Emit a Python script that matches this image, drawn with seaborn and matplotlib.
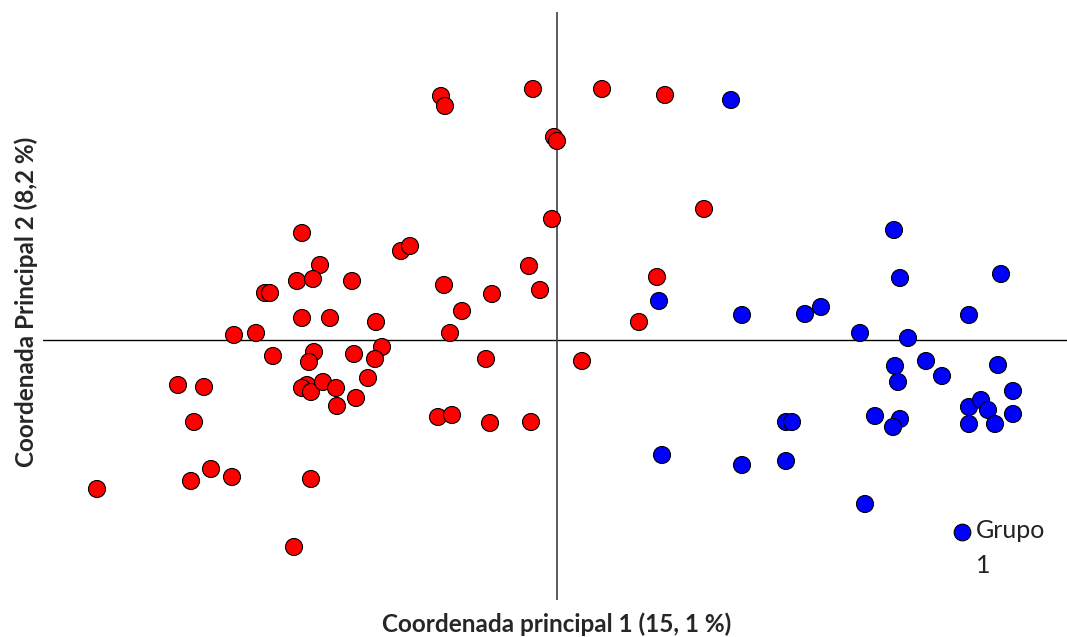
import numpy as np
import pandas as pd
import matplotlib
matplotlib.use("Agg")
import matplotlib.pyplot as plt
from matplotlib.lines import Line2D
from matplotlib.legend_handler import HandlerLine2D
import seaborn as sns

# Principal coordinates
red_x = [-4.60, -3.79, -3.53, -3.63, -3.46, -3.66, -3.25, -2.63, -2.46, -3.23,
         -3.01, -2.84, -2.92, -2.87, -2.55, -2.37, -2.60, -2.44, -2.05, -2.55,
         -2.27, -1.81, -2.43, -2.48, -2.03, -1.75, -1.82, -2.50, -2.55, -2.46,
         -2.34, -2.21, -2.20, -2.01, -1.89, -1.56, -1.47, -1.13, -0.95, -1.07,
         -0.65, -0.28, -0.17, -0.71, -1.19, -1.05, -0.67, -0.26, -1.16, -1.12,
         0.45, 1.08, -0.24, -0.03, 0.00, -0.05, 1.47, 1.00, 0.82, 0.25]
red_y = [-1.49, -0.45, -0.47, -0.82, -1.29, -1.41, -1.37, -2.07, -1.39, 0.05,
         0.07, -0.16, 0.47, 0.47, 1.07, 0.75, 0.59, 0.61, 0.59, 0.22,
         0.22, 0.18, -0.12, -0.22, -0.14, -0.07, -0.19, -0.45, -0.48, -0.52,
         -0.42, -0.48, -0.66, -0.58, -0.38, 0.89, 0.94, 0.55, 0.29, 0.07,
         0.46, 0.74, 0.50, -0.19, -0.77, -0.75, -0.83, -0.82, 2.44, 2.34,
         2.51, 2.45, 2.51, 2.03, 1.99, 1.21, 1.31, 0.63, 0.18, -0.21]

blue_x = [1.74, 1.02, 1.85, 2.48, 2.64, 2.29, 2.35, 1.05, 1.85, 2.29,
          3.37, 3.43, 4.44, 4.12, 3.03, 3.51, 3.38, 3.41, 3.69, 3.85,
          4.41, 4.56, 3.18, 3.43, 3.36, 4.12, 4.24, 4.31, 4.56, 4.12,
          4.38, 3.08]
blue_y = [2.40, 0.39, 0.25, 0.26, 0.33, -0.82, -0.82, -1.15, -1.25, -1.21,
          1.10, 0.62, 0.66, 0.25, 0.07, 0.02, -0.26, -0.42, -0.21, -0.36,
          -0.25, -0.51, -0.76, -0.79, -0.87, -0.67, -0.60, -0.70, -0.74, -0.84,
          -0.84, -1.64]

groups = ["Grupo 2", "Grupo 1"]
legend_label = "Grupo\n1"
x_label = "Coordenada principal 1 (15, 1 %)"
y_label = "Coordenada Principal 2 (8,2 %)"

df = pd.DataFrame({
    "x": red_x + blue_x,
    "y": red_y + blue_y,
    "grupo": [groups[0]] * len(red_x) + [groups[1]] * len(blue_x),
})

sns.set_theme(style="white")
plt.rcParams["font.family"] = ["Lato", "DejaVu Sans"]

fig = plt.figure(figsize=(10.67, 6.37), dpi=100)
ax = fig.add_axes([43 / 1067, 37 / 637, 1024 / 1067, 588 / 637])

palette = {groups[0]: "#FF0000", groups[1]: "#0000FF"}
sns.scatterplot(data=df, x="x", y="y", hue="grupo", palette=palette,
                s=150, edgecolor="black", linewidth=0.8, legend=False,
                ax=ax, zorder=3)

ax.set_xlim(-5.14, 5.10)
ax.set_ylim(-2.60, 3.28)
ax.axhline(0, color="black", linewidth=1.0, zorder=1)
ax.axvline(0, color="#404040", linewidth=1.2, zorder=1)

for sp in ax.spines.values():
    sp.set_visible(False)
ax.set_xticks([])
ax.set_yticks([])
ax.set_xlabel("")
ax.set_ylabel("")

fig.text(557 / 1067, 13 / 637, x_label, ha="center", va="center",
         fontsize=17.5, fontweight="bold")
fig.text(26 / 1067, 335 / 637, y_label, ha="center", va="center",
         rotation=90, fontsize=17.5, fontweight="bold")


class FirstLineHandler(HandlerLine2D):
    """Marker aligned with the first line of a two-line label."""
    def __init__(self, dy, **kw):
        super().__init__(**kw)
        self.dy = dy

    def create_artists(self, legend, orig_handle, xdescent, ydescent,
                       width, height, fontsize, trans):
        arts = super().create_artists(legend, orig_handle, xdescent, ydescent,
                                      width, height, fontsize, trans)
        for a in arts:
            yd = np.asarray(a.get_ydata(), dtype=float)
            a.set_ydata(yd + self.dy)
        return arts


handle = Line2D([], [], marker="o", linestyle="", markersize=12,
                markerfacecolor="#0000FF", markeredgecolor="black",
                markeredgewidth=0.8)
leg = ax.legend([handle], [legend_label], loc="upper left",
                bbox_to_anchor=(0.889, 0.137), frameon=False,
                fontsize=18, handlelength=0.66, handletextpad=0.24,
                borderaxespad=0, borderpad=0,
                handler_map={handle: FirstLineHandler(dy=12.5)})
for t in leg.get_texts():
    t.set_linespacing(1.6)
    t.set_color("#222222")

fig.savefig("out.png", dpi=100)
